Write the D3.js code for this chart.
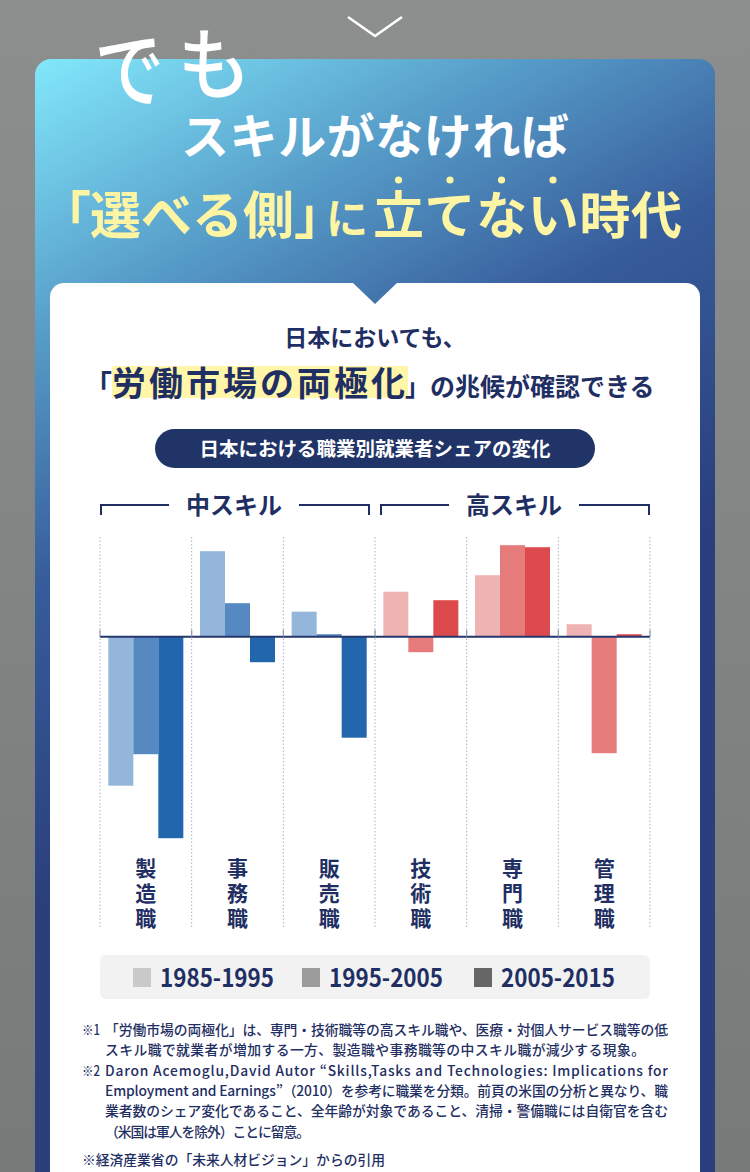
<!DOCTYPE html>
<html lang="ja">
<head>
<meta charset="utf-8">
<script src="https://cdn.jsdelivr.net/npm/d3@7"></script>
<style>
  html, body { margin: 0; padding: 0; background: #838584; }
  svg { display: block; }
  text { font-family: "Noto Sans CJK JP", "Noto Sans", sans-serif; }
</style>
</head>
<body>
<svg id="chart" width="750" height="1172"></svg>
<script>
// data (change in share, percentage points)
const categories = ["製造職", "事務職", "販売職", "技術職", "専門職", "管理職"];
const categorySkill = ["中スキル", "中スキル", "中スキル", "高スキル", "高スキル", "高スキル"];
const skillGroups = ["中スキル", "高スキル"];
const periods = ["1985-1995", "1995-2005", "2005-2015"];
const share1985to1995 = [-2.98, 1.71, 0.50, 0.90, 1.23, 0.25];
const share1995to2005 = [-2.35, 0.67, 0.05, -0.31, 1.83, -2.33];
const share2005to2015 = [-4.03, -0.51, -2.02, 0.73, 1.79, 0.05];
const seriesValues = [share1985to1995, share1995to2005, share2005to2015];

const blueShades = ["#94b6da", "#5689c1", "#2267ae"];
const redShades = ["#f0b3b3", "#e67b7c", "#dc4a4d"];
const legendGreys = ["#c9c9c9", "#9c9c9c", "#666666"];
const navy = "#1f2f63";

const footnotes = [
  { mark: "※1", text: "「労働市場の両極化」は、専門・技術職等の高スキル職や、医療・対個人サービス職等の低", len: 563 },
  { mark: "", text: "スキル職で就業者が増加する一方、製造職や事務職等の中スキル職が減少する現象。", len: 540 },
  { mark: "※2", text: "Daron Acemoglu,David Autor “Skills,Tasks and Technologies: Implications for", len: 563 },
  { mark: "", text: "Employment and Earnings”（2010）を参考に職業を分類。前頁の米国の分析と異なり、職", len: 563 },
  { mark: "", text: "業者数のシェア変化であること、全年齢が対象であること、清掃・警備職には自衛官を含む", len: 563 },
  { mark: "", text: "（米国は軍人を除外）ことに留意。", len: 205 }
];
const sourceNote = "※経済産業省の「未来人材ビジョン」からの引用";

const svg = d3.select("#chart");
const defs = svg.append("defs");

// background + card
const bg = defs.append("linearGradient").attr("id", "bg")
  .attr("x1", 0).attr("y1", 0).attr("x2", 0).attr("y2", 1);
bg.append("stop").attr("offset", 0).attr("stop-color", "#8d8f8e");
bg.append("stop").attr("offset", 1).attr("stop-color", "#787a79");

const cardGrad = defs.append("linearGradient").attr("id", "card")
  .attr("gradientUnits", "userSpaceOnUse")
  .attr("x1", 35).attr("y1", 60).attr("x2", 400).attr("y2", 700);
cardGrad.append("stop").attr("offset", 0).attr("stop-color", "#82e8fb");
cardGrad.append("stop").attr("offset", 0.33).attr("stop-color", "#569cc8");
cardGrad.append("stop").attr("offset", 0.62).attr("stop-color", "#375c9b");
cardGrad.append("stop").attr("offset", 1).attr("stop-color", "#2a3f7c");

svg.append("rect").attr("width", 750).attr("height", 1172).attr("fill", "url(#bg)");
svg.append("rect").attr("x", 35).attr("y", 59).attr("width", 680).attr("height", 1200)
  .attr("rx", 16).attr("fill", "url(#card)");

// "でも" and the chevron
svg.append("text").attr("x", 0).attr("y", 0).attr("font-size", 84).attr("font-weight", 500)
  .attr("fill", "#fff").attr("transform", "translate(98,104) rotate(-4) scale(0.82,1)").text("で");
svg.append("text").attr("x", 0).attr("y", 0).attr("font-size", 80).attr("font-weight", 500)
  .attr("fill", "#fff").attr("transform", "translate(180,96) rotate(-4) scale(0.9,1)").text("も");
svg.append("polyline").attr("points", "348,17 375,36 402,17")
  .attr("fill", "none").attr("stroke", "#fff").attr("stroke-width", 2.5);

// headline
svg.append("text").attr("x", 375).attr("y", 154).attr("text-anchor", "middle")
  .attr("font-size", 48).attr("font-weight", 700).attr("fill", "#fff")
  .attr("textLength", 388).text("スキルがなければ");

const yellow = "#fdf4a4";
const t2 = svg.append("g").attr("fill", yellow).attr("font-weight", 700);
t2.append("text").attr("x", 40).attr("y", 234).attr("font-size", 51).text("「");
t2.append("text").attr("x", 90).attr("y", 234).attr("font-size", 51).text("選べる側");
t2.append("text").attr("x", 294).attr("y", 234).attr("font-size", 51)
  .style("font-feature-settings", "'halt'").text("」");
t2.append("text").attr("x", 326).attr("y", 234).attr("font-size", 42).text("に");
t2.append("text").attr("x", 373).attr("y", 234).attr("font-size", 51).attr("textLength", 309).text("立てない時代");
t2.selectAll("circle").data(d3.range(4)).join("circle")
  .attr("cx", i => 373 + 25.5 + i * 51.5).attr("cy", 180).attr("r", 3.6);

// white panel with notch
svg.append("rect").attr("x", 50).attr("y", 283).attr("width", 650).attr("height", 1000)
  .attr("rx", 14).attr("fill", "#fff");
svg.append("polygon").attr("points", "353,283 397,283 375,304").attr("fill", "url(#card)");

// sub headline
svg.append("text").attr("x", 375).attr("y", 346).attr("text-anchor", "middle")
  .attr("font-size", 23).attr("font-weight", 700).attr("fill", navy).text("日本においても、");
svg.append("rect").attr("x", 112).attr("y", 366).attr("width", 296).attr("height", 32).attr("fill", "#fff6aa");
const sub = svg.append("text").attr("x", 84).attr("y", 396).attr("font-weight", 700).attr("fill", navy);
sub.append("tspan").attr("font-size", 28).text("「");
sub.append("tspan").attr("font-size", 34).attr("letter-spacing", 3).text("労働市場の両極化");
sub.append("tspan").attr("font-size", 25).attr("dx", -3).text("」の兆候が確認できる");

// pill title
svg.append("rect").attr("x", 155).attr("y", 429).attr("width", 440).attr("height", 39)
  .attr("rx", 19.5).attr("fill", "#213468");
svg.append("text").attr("x", 375).attr("y", 456).attr("text-anchor", "middle")
  .attr("font-size", 19.5).attr("font-weight", 700).attr("fill", "#fff")
  .text("日本における職業別就業者シェアの変化");

// ---- chart ----
const x = d3.scaleBand().domain(categories).range([100, 650]);
const xInner = d3.scaleBand().domain(periods).range([8.33, x.bandwidth() - 8.33]);
const y = d3.scaleLinear().domain([-4.5, 2.0]).range([861.7, 536.7]);
const chartTop = 537, chartBottom = 928;

const rows = categories.map((c, i) => ({
  cat: c,
  skill: categorySkill[i],
  values: periods.map((p, j) => ({ period: p, j: j, value: seriesValues[j][i], skill: categorySkill[i] }))
}));

// dotted column dividers
const dividerX = categories.map(c => x(c)).concat([x.range()[1]]);
svg.append("g").selectAll("line").data(dividerX).join("line")
  .attr("x1", d => d).attr("x2", d => d)
  .attr("y1", chartTop).attr("y2", chartBottom)
  .attr("stroke", "#aab1c3").attr("stroke-width", 1).attr("stroke-dasharray", "1.5,2");

// bars
const col = svg.append("g").selectAll("g").data(rows).join("g")
  .attr("transform", d => `translate(${x(d.cat)},0)`);
col.selectAll("rect").data(d => d.values).join("rect")
  .attr("x", d => xInner(d.period))
  .attr("width", xInner.bandwidth())
  .attr("y", d => Math.min(y(d.value), y(0)))
  .attr("height", d => Math.abs(y(d.value) - y(0)))
  .attr("fill", d => (d.skill === "中スキル" ? blueShades : redShades)[d.j]);

// zero line + small ticks
svg.append("line").attr("x1", 100).attr("x2", 650).attr("y1", y(0)).attr("y2", y(0))
  .attr("stroke", "#25376c").attr("stroke-width", 2);
svg.append("g").selectAll("line").data(dividerX).join("line")
  .attr("x1", d => d).attr("x2", d => d).attr("y1", y(0) - 7).attr("y2", y(0))
  .attr("stroke", "#8f97ad").attr("stroke-width", 1.2);

// skill group brackets
const groupG = svg.append("g");
skillGroups.forEach(g => {
  const idx = categories.map((c, i) => i).filter(i => categorySkill[i] === g);
  const first = idx[0], last = idx[idx.length - 1];
  const x0 = x(categories[first]) + (first === 0 ? 1 : 6);
  const x1 = x(categories[last]) + x.bandwidth() - (last === categories.length - 1 ? 1 : 6);
  const mid = (x0 + x1) / 2;
  groupG.append("path")
    .attr("d", `M${x0},515V505H${mid - 66}M${mid + 64},505H${x1}V515`)
    .attr("fill", "none").attr("stroke", navy).attr("stroke-width", 2);
  groupG.append("text").attr("x", mid - 1).attr("y", 514).attr("text-anchor", "middle")
    .attr("font-size", 24).attr("font-weight", 700).attr("fill", navy).text(g);
});

// vertical category labels
svg.append("g").selectAll("text").data(categories).join("text")
  .attr("x", c => x(c) + x.bandwidth() / 2)
  .attr("y", 858)
  .attr("font-size", 21).attr("font-weight", 700).attr("fill", navy)
  .style("writing-mode", "vertical-rl")
  .attr("letter-spacing", 4)
  .text(c => c);

// legend
svg.append("rect").attr("x", 100).attr("y", 955).attr("width", 550).attr("height", 44)
  .attr("rx", 6).attr("fill", "#f2f2f2");
const legendX = [133, 302, 474];
const legend = svg.append("g").selectAll("g").data(periods).join("g")
  .attr("transform", (d, i) => `translate(${legendX[i]},0)`);
legend.append("rect").attr("y", 968).attr("width", 18).attr("height", 19)
  .attr("fill", (d, i) => legendGreys[i]);
legend.append("text").attr("x", 27).attr("y", 987)
  .attr("font-family", "Roboto, 'Noto Sans', sans-serif")
  .attr("font-size", 25).attr("font-weight", 700).attr("fill", navy)
  .attr("textLength", 114).attr("lengthAdjust", "spacingAndGlyphs")
  .text(d => d);

// footnotes
const notes = svg.append("g").attr("font-size", 13.8).attr("fill", navy).attr("font-weight", 500);
footnotes.forEach((f, i) => {
  const yy = 1035 + i * 20.3;
  if (f.mark) notes.append("text").attr("x", 82).attr("y", yy)
    .attr("textLength", 18).attr("lengthAdjust", "spacingAndGlyphs").text(f.mark);
  notes.append("text").attr("x", 105).attr("y", yy)
    .attr("textLength", f.len).attr("lengthAdjust", "spacing").text(f.text);
});
notes.append("text").attr("x", 82).attr("y", 1165)
  .attr("textLength", 303).attr("lengthAdjust", "spacing").text(sourceNote);
</script>
</body>
</html>
